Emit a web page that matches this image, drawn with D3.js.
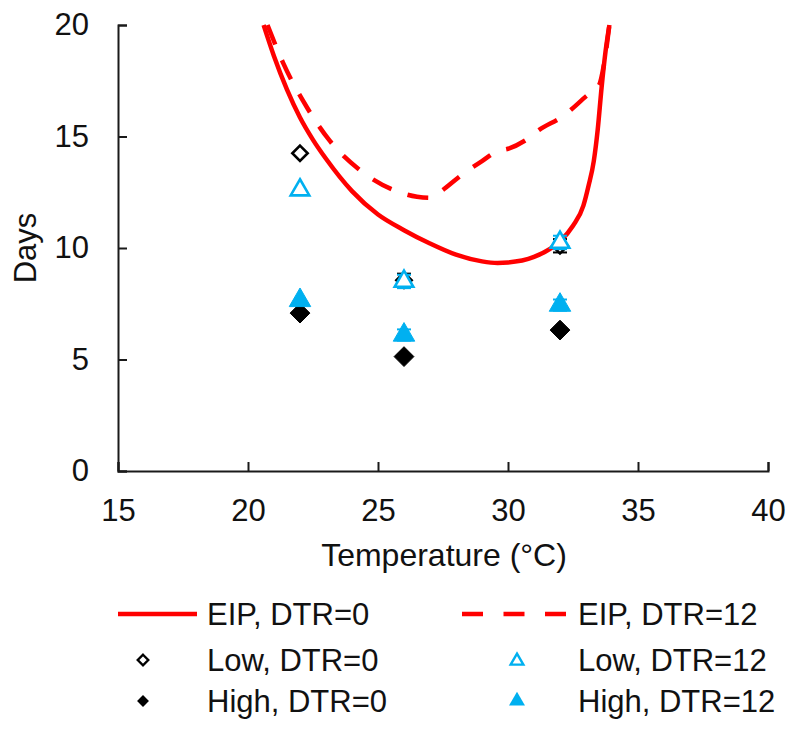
<!DOCTYPE html>
<html>
<head>
<meta charset="utf-8">
<script src="https://cdn.jsdelivr.net/npm/d3@7"></script>
<style>
  body { margin: 0; background: #fff; }
  svg { display: block; font-family: "Liberation Sans", Arial, sans-serif; }
</style>
</head>
<body>
<svg id="chart" width="800" height="731"></svg>
<script>
// ---- Data ----
const xTicks = [15, 20, 25, 30, 35, 40];
const yTicks = [0, 5, 10, 15, 20];

// EIP curves (temperature, days)
const eipDTR0_T    = [20.6, 21, 21.5, 22, 22.5, 23, 24, 25, 26, 27, 28, 29, 29.6, 30, 31, 31.6, 32, 32.5, 32.9, 33.1, 33.3, 33.45, 33.6, 33.75, 33.9];
const eipDTR0_days = [20, 18.6, 17.1, 15.85, 14.85, 14.0, 12.55, 11.5, 10.8, 10.2, 9.7, 9.4, 9.33, 9.35, 9.6, 9.95, 10.3, 11.0, 11.9, 12.8, 13.9, 15.3, 17.2, 18.8, 20];

const eipDTR12_T    = [20.75, 21.35, 22.27, 23.15, 24.3, 25.6, 26.5, 27.0, 27.3, 28.3, 29.0, 29.6, 30.0, 30.7, 31.2, 32.1, 33.0, 33.5, 33.7, 33.9];
const eipDTR12_days = [20, 18.3, 16.3, 14.8, 13.5, 12.6, 12.3, 12.25, 12.45, 13.35, 13.9, 14.35, 14.45, 14.85, 15.3, 15.9, 16.8, 17.3, 18.3, 20];

// Observed points
const obsTemps = [22, 26, 32];
const lowDTR0   = [14.25, 8.55, 10.1];
const lowDTR0Err = [0.0, 0.3, 0.3];
const highDTR0  = [7.08, 5.13, 6.32];
const highDTR0Err = [0.0, 0.0, 0.0];
const lowDTR12  = [12.6, 8.5, 10.25];
const lowDTR12Err = [0.0, 0.3, 0.3];
const highDTR12 = [7.65, 6.1, 7.44];
const highDTR12Err = [0.0, 0.25, 0.25];

const legendLabels = ["EIP, DTR=0", "EIP, DTR=12", "Low, DTR=0", "Low, DTR=12", "High, DTR=0", "High, DTR=12"];

// ---- Drawing ----
const RED = "#ff0000", BLUE = "#00b0f0", INK = "#1a1a1a";
const svg = d3.select("#chart");
const mLeft = 118, mRight = 768, mTop = 25, mBottom = 471;
const x = d3.scaleLinear().domain([15, 40]).range([mLeft, mRight]);
const y = d3.scaleLinear().domain([0, 20]).range([mBottom, mTop]);
const FS = 31;

// axes
const xAxis = d3.axisBottom(x).tickValues(xTicks).tickSizeInner(-9).tickSizeOuter(-9).tickPadding(28);
const gx = svg.append("g").attr("transform", `translate(0,${mBottom})`).call(xAxis);
const yAxis = d3.axisLeft(y).tickValues(yTicks).tickSizeInner(-9).tickSizeOuter(-9).tickPadding(29);
const gy = svg.append("g").attr("transform", `translate(${mLeft},0)`).call(yAxis);
[gx, gy].forEach(g => {
  g.selectAll("path.domain").attr("stroke", INK).attr("stroke-width", 2);
  g.selectAll(".tick line").attr("stroke", INK).attr("stroke-width", 2);
  g.selectAll(".tick text").attr("font-size", FS).attr("fill", "#111").attr("font-family", "Liberation Sans, Arial, sans-serif");
});

svg.append("text").attr("x", (mLeft + mRight) / 2 + 1).attr("y", 566)
  .attr("text-anchor", "middle").attr("font-size", 32).attr("fill", "#111")
  .text("Temperature (°C)");
svg.append("text").attr("transform", "translate(36,248) rotate(-90)")
  .attr("text-anchor", "middle").attr("font-size", FS).attr("fill", "#111")
  .text("Days");

// clip for curves
svg.append("clipPath").attr("id", "plotclip").append("rect")
  .attr("x", mLeft).attr("y", mTop - 2).attr("width", mRight - mLeft).attr("height", mBottom - mTop + 2);

const line = d3.line().x(d => x(d[0])).y(d => y(d[1])).curve(d3.curveMonotoneX);
const plot = svg.append("g").attr("clip-path", "url(#plotclip)");

plot.append("path").datum(d3.zip(eipDTR12_T, eipDTR12_days)).attr("d", line)
  .attr("fill", "none").attr("stroke", RED).attr("stroke-width", 4.5).attr("stroke-dasharray", "21,17");
plot.append("path").datum(d3.zip(eipDTR0_T, eipDTR0_days)).attr("d", line)
  .attr("fill", "none").attr("stroke", RED).attr("stroke-width", 4.5);

const diamond = s => d3.symbol().type(d3.symbolDiamond2).size(s)();
const tri = s => d3.symbol().type(d3.symbolTriangle).size(s)();

function series(vals, errs, color, path, filled, sw) {
  const g = svg.append("g");
  obsTemps.forEach((t, i) => {
    if (errs[i] > 0) {
      const cx = x(t), y1 = y(vals[i] - errs[i]), y2 = y(vals[i] + errs[i]);
      g.append("line").attr("x1", cx).attr("x2", cx).attr("y1", y1).attr("y2", y2).attr("stroke", color).attr("stroke-width", 2);
      [y1, y2].forEach(yy => g.append("line").attr("x1", cx - 7).attr("x2", cx + 7).attr("y1", yy).attr("y2", yy).attr("stroke", color).attr("stroke-width", 2));
    }
    g.append("path").attr("d", path).attr("transform", `translate(${x(t)},${y(vals[i])})`)
      .attr("fill", filled ? color : "#fff").attr("stroke", color).attr("stroke-width", sw);
  });
}
series(lowDTR0, lowDTR0Err, "#000", diamond(150), false, 2.6);
series(highDTR0, highDTR0Err, "#000", diamond(250), true, 1);
series(lowDTR12, lowDTR12Err, BLUE, tri(150), false, 2.6);
series(highDTR12, highDTR12Err, BLUE, tri(200), true, 1);

// legend
const lg = svg.append("g").attr("font-size", FS).attr("fill", "#111");
const rows = [614, 660, 701];
lg.append("line").attr("x1", 118).attr("x2", 197).attr("y1", rows[0]).attr("y2", rows[0]).attr("stroke", RED).attr("stroke-width", 4.5);
lg.append("line").attr("x1", 462).attr("x2", 566).attr("y1", rows[0]).attr("y2", rows[0]).attr("stroke", RED).attr("stroke-width", 4.5).attr("stroke-dasharray", "21,20.5");
lg.append("path").attr("d", diamond(70)).attr("transform", `translate(143,${rows[1]})`).attr("fill", "#fff").attr("stroke", "#000").attr("stroke-width", 2.4);
lg.append("path").attr("d", diamond(90)).attr("transform", `translate(143,${rows[2]})`).attr("fill", "#000");
lg.append("path").attr("d", tri(70)).attr("transform", `translate(517,${rows[1] + 1})`).attr("fill", "#fff").attr("stroke", BLUE).attr("stroke-width", 2.4);
lg.append("path").attr("d", tri(110)).attr("transform", `translate(517,${rows[2]})`).attr("fill", BLUE);
const lx = [207, 578];
legendLabels.forEach((t, i) => {
  lg.append("text").attr("x", lx[i % 2]).attr("y", rows[Math.floor(i / 2)]).attr("dy", "0.36em").text(t);
});
</script>
</body>
</html>
